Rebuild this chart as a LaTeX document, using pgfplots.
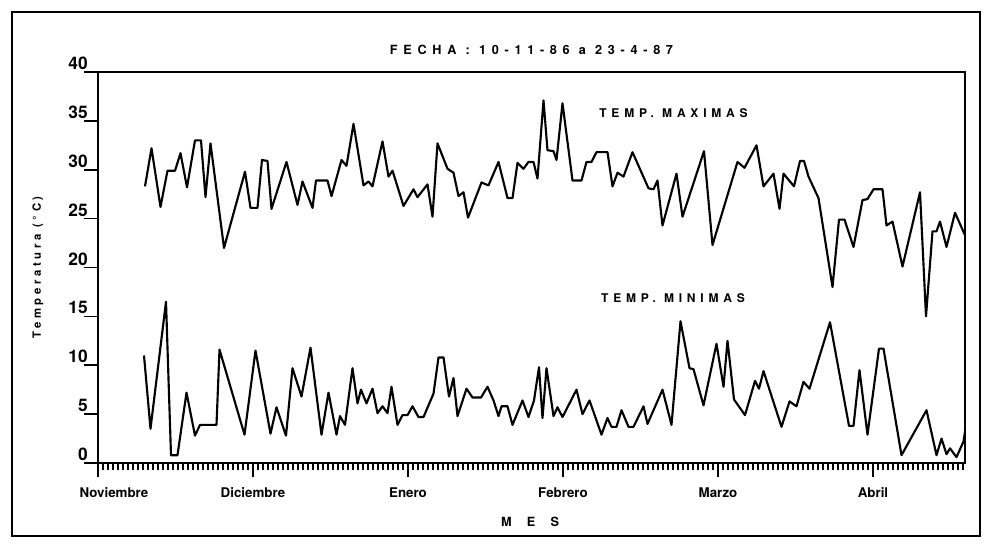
\documentclass[border=0pt]{standalone}
\usepackage{fontspec}
\setmainfont{TeX Gyre Heros}
\usepackage{pgfplots}
\usepackage{pgfplotstable}
\pgfplotsset{compat=1.18}
\usetikzlibrary{calc}

% x: days since 1 Nov 1986 (approx.), y: temperature in deg C
\pgfplotstableread{
x y
9.4 28.3
10.7 32.2
12.5 26.2
13.9 29.9
15.4 29.9
16.5 31.7
17.8 28.2
19.4 33.0
20.6 33.0
21.5 27.2
22.5 32.7
25.2 22.0
29.4 29.8
30.5 26.1
31.9 26.1
32.8 31.0
33.9 30.9
34.7 26.0
37.7 30.8
39.9 26.4
40.9 28.8
42.9 26.1
43.6 28.9
45.9 28.9
46.7 27.3
48.7 31.0
49.7 30.4
51.1 34.7
53.1 28.4
54.1 28.8
54.9 28.3
56.9 32.9
58.1 29.3
58.9 29.9
61.1 26.3
63.1 28.0
63.9 27.2
65.9 28.5
66.9 25.2
67.9 32.7
69.9 30.1
71.1 29.7
72.1 27.3
73.1 27.7
74.0 25.1
76.7 28.7
78.1 28.4
80.1 30.8
81.9 27.1
82.9 27.1
83.9 30.7
85.1 30.1
86.1 30.8
87.1 30.8
87.9 29.1
89.1 37.1
89.9 32.0
91.1 31.9
91.7 31.0
92.9 36.8
94.9 28.9
96.7 28.9
97.7 30.8
98.7 30.8
99.7 31.8
101.9 31.8
102.9 28.3
103.9 29.7
105.1 29.3
106.9 31.8
110.1 28.1
111.1 28.0
111.9 28.9
112.9 24.3
115.7 29.6
116.9 25.2
121.2 31.9
122.9 22.3
127.9 30.8
129.3 30.2
131.7 32.5
133.1 28.3
135.1 29.6
136.3 26.0
137.1 29.6
139.2 28.3
140.4 30.9
141.2 30.9
142.1 29.3
144.1 27.1
146.9 18.0
148.2 24.9
149.3 24.9
151.1 22.1
152.9 26.9
153.9 27.0
155.1 28.0
156.9 28.0
157.7 24.3
158.9 24.7
160.9 20.1
164.4 27.7
165.6 15.0
166.9 23.7
167.7 23.7
168.4 24.7
169.7 22.1
171.4 25.6
173.4 23.3
}\tmax

\pgfplotstableread{
x y
9.2 11.0
10.5 3.5
13.6 16.5
14.6 0.8
15.9 0.8
17.7 7.2
19.4 2.8
20.4 3.9
23.7 3.9
24.3 11.6
29.3 2.9
31.5 11.5
34.5 3.0
35.7 5.7
37.6 2.8
38.9 9.7
40.7 6.8
42.5 11.8
44.7 2.9
46.1 7.2
47.7 2.9
48.4 4.8
49.4 3.9
50.9 9.7
51.9 6.1
52.6 7.5
53.7 6.1
54.9 7.6
55.9 5.1
56.9 5.8
57.9 5.1
58.7 7.8
59.9 3.9
60.9 4.9
61.9 4.9
62.9 5.8
64.1 4.7
65.1 4.7
67.1 7.1
68.1 10.8
69.1 10.8
70.2 6.8
71.1 8.7
71.9 4.8
73.7 7.6
74.9 6.7
76.6 6.7
77.9 7.8
79.1 6.4
80.1 4.8
80.7 5.8
81.9 5.8
82.9 3.9
84.9 6.4
86.1 4.7
87.2 6.4
88.2 9.8
88.9 4.6
89.7 9.7
91.1 4.8
91.9 5.7
92.9 4.7
95.7 7.5
96.9 5.0
98.3 6.4
100.7 2.9
101.9 4.6
102.7 3.7
103.7 3.7
104.7 5.4
106.1 3.7
107.1 3.7
109.1 5.8
109.9 4.0
112.9 7.5
114.7 3.9
116.5 14.5
118.3 9.7
119.1 9.6
121.1 5.9
123.7 12.2
125.1 7.8
125.9 12.5
127.2 6.5
129.4 4.9
131.4 8.4
132.2 7.6
133.1 9.4
136.7 3.7
138.3 6.3
139.7 5.8
141.1 8.3
142.3 7.6
146.4 14.4
150.2 3.8
151.1 3.8
152.3 9.5
153.9 2.9
156.2 11.7
157.1 11.7
160.7 0.8
165.7 5.4
167.7 0.8
168.7 2.5
169.7 0.9
170.4 1.5
171.7 0.6
173.1 2.2
173.8 4.6
}\tmin

\begin{document}
\begin{tikzpicture}
\begin{axis}[
  name=ax,
  scale only axis,
  width=650.25pt, height=293.25pt,
  xmin=0, xmax=173.4, ymin=0, ymax=40,
  xtick={0,31,62,93,124,155},
  xticklabels={\hspace*{24pt}Noviembre, Diciembre, Enero, Febrero, Marzo, Abril},
  minor xtick={0,1,...,173},
  ytick={0,5,...,40},
  tick align=outside, tick pos=left,
  major tick length=10.5pt, minor tick length=5pt,
  axis line style={line width=2pt},
  every major tick/.append style={line width=1.2pt, black},
  every minor tick/.append style={line width=1pt, black},
  xticklabel style={font=\bfseries\fontsize{10}{10}\selectfont,
                    anchor=north, inner sep=0pt, yshift=-8pt},
  yticklabel style={font=\bfseries\fontsize{13}{13}\selectfont,
                    anchor=south east, inner sep=0pt, xshift=3pt, yshift=1.5pt},
  /pgf/number format/assume math mode=true,
  clip=true,
]
\addplot[black, line width=1.6pt, line join=round] table[x=x, y=y] {\tmax};
\addplot[black, line width=1.6pt, line join=round] table[x=x, y=y] {\tmin};
\node[font=\bfseries\fontsize{9}{9}\selectfont\addfontfeatures{LetterSpace=40}]
  at (axis cs:115.1,35.8) {TEMP. MAXIMAS};
\node[font=\bfseries\fontsize{9}{9}\selectfont\addfontfeatures{LetterSpace=40}]
  at (axis cs:115,16.9) {TEMP. MINIMAS};
\end{axis}
\node[font=\bfseries\fontsize{9.5}{9.5}\selectfont\addfontfeatures{LetterSpace=45}]
  at ($(ax.north)+(0,16.5pt)$) {FECHA : 10-11-86 a 23-4-87};
\node[rotate=90, font=\bfseries\fontsize{8.5}{8.5}\selectfont\addfontfeatures{LetterSpace=32}]
  at ($(ax.west)+(-45pt,0)$) {Temperatura (°C)};
\node[font=\bfseries\fontsize{9.5}{9.5}\selectfont]
  at ($(ax.south)+(-1pt,-44pt)$) {M\hspace{1.2em}E\hspace{1.2em}S};
\draw[line width=1pt] ($(ax.south west)+(-64.5pt,-54.75pt)$)
  rectangle ($(ax.north east)+(11.25pt,45pt)$);
\path ($(ax.south west)+(-73.5pt,-60.75pt)$)
  rectangle ($(ax.north east)+(18pt,54pt)$);
\end{tikzpicture}
\end{document}
